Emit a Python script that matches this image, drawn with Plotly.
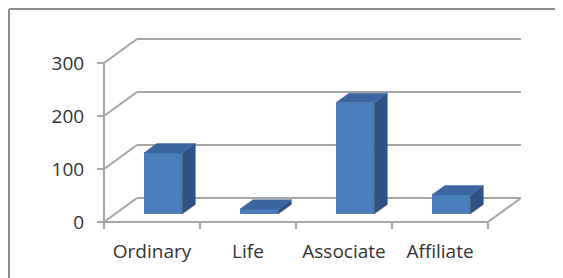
import plotly.graph_objects as go

categories = ["Ordinary", "Life", "Associate", "Affiliate"]
values = [115, 9, 210, 36]
y_ticks = [0, 100, 200, 300]
y_ticklabels = ["0", "100", "200", "300"]

# the page body adds an 8px margin, so the figure is sized to fit the window
PAGE_OFF = 8
W, H = 563 - PAGE_OFF, 278 - PAGE_OFF
# pixel geometry of the projection (figure pixels)
X0_PX, CAT_PX = 104 - PAGE_OFF, 96.0
Y0_PX, PX_PER_UNIT = 222 - PAGE_OFF, 0.53
DX = 33 / CAT_PX                # back-wall shift in category units
DY = 24 / PX_PER_UNIT           # back-wall shift in value units
D0, D1 = 1 / 3, 0.73            # bar depth span
BW = 0.4                        # bar width

FRONT = "#4a7ebb"
SIDE = "#2f5282"
TOP = "#3b66a0"
GRID = "#a6a6a6"
TXT = "#333333"
FONT = "Open Sans"


def proj(x, y, d):
    return x + d * DX, y + d * DY


fig = go.Figure()

# front faces of the bars
fig.add_trace(go.Bar(
    x=[i + 0.5 + D0 * DX for i in range(len(categories))],
    y=values,
    base=[D0 * DY] * len(values),
    width=BW,
    marker=dict(color=FRONT, line=dict(width=0)),
    hoverinfo="skip",
    showlegend=False,
))

# side and top faces
for i, v in enumerate(values):
    xl, xr = i + 0.5 - BW / 2, i + 0.5 + BW / 2
    side = [proj(xr, 0, D0), proj(xr, v, D0), proj(xr, v, D1), proj(xr, 0, D1), proj(xr, 0, D0)]
    top = [proj(xl, v, D0), proj(xr, v, D0), proj(xr, v, D1), proj(xl, v, D1), proj(xl, v, D0)]
    for poly, col in ((side, SIDE), (top, TOP)):
        fig.add_trace(go.Scatter(
            x=[p[0] for p in poly], y=[p[1] for p in poly],
            fill="toself", fillcolor=col, mode="lines",
            line=dict(color=col, width=0.5),
            hoverinfo="skip", showlegend=False,
        ))

shapes = []
n = len(categories)


def seg(p, q, color=GRID, width=2, ref="data"):
    r = ("x", "y") if ref == "data" else ("paper", "paper")
    return dict(type="line", xref=r[0], yref=r[1], x0=p[0], y0=p[1], x1=q[0], y1=q[1],
                line=dict(color=color, width=width), layer="below")


# back wall gridlines and left wall diagonals
for t in y_ticks:
    shapes.append(seg(proj(0, t, 1), proj(n, t, 1)))
    shapes.append(seg(proj(0, t, 0), proj(0, t, 1)))
# front axis line, floor front edge and right floor diagonal
shapes.append(seg((0, 0), (0, y_ticks[-1])))
shapes.append(seg((0, 0), (n, 0)))
shapes.append(seg(proj(n, 0, 0), proj(n, 0, 1)))

# outer chart border (left and top)
bx, by = 1 / W, 1 - 1 / H
shapes.append(seg((bx, 0), (bx, by), color="#8c8c8c", width=2, ref="paper"))
shapes.append(seg((bx, by), (1, by), color="#8c8c8c", width=2, ref="paper"))

fig.update_layout(
    width=W, height=H,
    margin=dict(l=0, r=0, t=0, b=0),
    paper_bgcolor="white", plot_bgcolor="white",
    shapes=shapes,
    bargap=0,
    xaxis=dict(
        range=[-X0_PX / CAT_PX, (W - X0_PX) / CAT_PX],
        domain=[0, 1], anchor="free", position=(H - Y0_PX) / H,
        showgrid=False, zeroline=False, showline=False,
        tickmode="array",
        tickvals=[i + 0.5 for i in range(n)], ticktext=categories,
        ticks="", ticklabelstandoff=16,
        tickfont=dict(family=FONT, size=19, color=TXT),
        minor=dict(tickmode="array", tickvals=list(range(n + 1)), ticks="outside",
                   ticklen=6, tickwidth=2, tickcolor=GRID, showgrid=False),
        fixedrange=True,
    ),
    yaxis=dict(
        range=[-(H - Y0_PX) / PX_PER_UNIT, Y0_PX / PX_PER_UNIT],
        domain=[0, 1], anchor="free", position=X0_PX / W,
        showgrid=False, zeroline=False, showline=False,
        tickmode="array", tickvals=y_ticks, ticktext=y_ticklabels,
        ticks="outside", ticklen=7, tickwidth=2, tickcolor=GRID,
        ticklabelstandoff=9,
        tickfont=dict(family=FONT, size=19, color=TXT),
        fixedrange=True,
    ),
)

fig.write_html("out.html")
